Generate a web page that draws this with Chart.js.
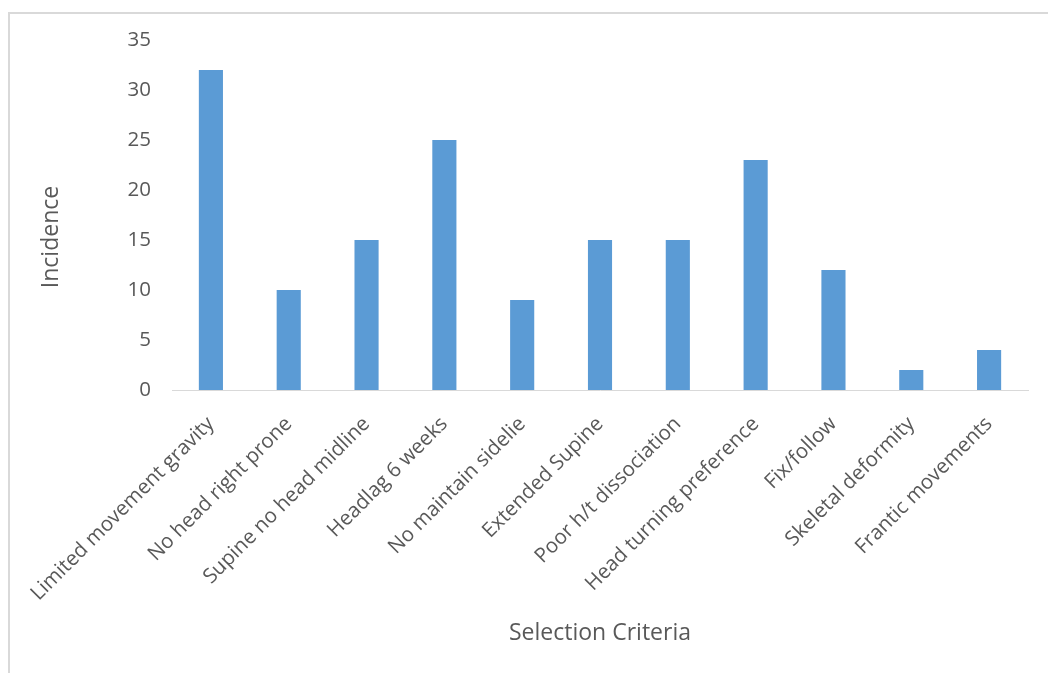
<!DOCTYPE html>
<html>
<head>
<meta charset="utf-8">
<script src="https://cdn.jsdelivr.net/npm/chart.js@4/dist/chart.umd.min.js"></script>
<style>
  body { margin: 0; background: #fff; }
  #frame { position: absolute; left: 8px; top: 12px; width: 1100px; height: 700px;
           border-left: 2px solid #d9d9d9; border-top: 2px solid #d9d9d9; }
  #wrap { position: absolute; left: 0; top: 0; width: 1048px; height: 673px; }
</style>
</head>
<body>
<div id="frame"></div>
<div id="wrap"><canvas id="chart"></canvas></div>
<script>
const categories = ['Limited movement gravity', 'No head right prone', 'Supine no head midline',
  'Headlag 6 weeks', 'No maintain sidelie', 'Extended Supine', 'Poor h/t dissociation',
  'Head turning preference', 'Fix/follow', 'Skeletal deformity', 'Frantic movements'];
const incidence = [32, 10, 15, 25, 9, 15, 15, 23, 12, 2, 4];
const yTicks = { min: 0, max: 35, step: 5 };

const textColor = '#595959';
const font = 'Open Sans';

// y axis title sits a bit below the plot's middle in the original, so draw it by hand
const yTitle = {
  id: 'yTitle',
  afterDraw(chart) {
    const ctx = chart.ctx;
    ctx.save();
    ctx.translate(51, 237);
    ctx.rotate(-Math.PI / 2);
    ctx.font = '23px "Open Sans"';
    ctx.fillStyle = textColor;
    ctx.textAlign = 'center';
    ctx.textBaseline = 'middle';
    ctx.fillText('Incidence', 0, 0);
    ctx.restore();
  }
};

new Chart(document.getElementById('chart'), {
  type: 'bar',
  data: {
    labels: categories,
    datasets: [{
      label: 'Incidence',
      data: incidence,
      backgroundColor: '#5b9bd5',
      borderWidth: 0,
      barPercentage: 0.31,
      categoryPercentage: 1
    }]
  },
  options: {
    responsive: true,
    maintainAspectRatio: false,
    animation: false,
    layout: { padding: { top: 40, right: 20, bottom: 0, left: 0 } },
    scales: {
      x: {
        afterFit: (s) => { s.height = 283; },
        grid: { display: false },
        border: { display: true, color: '#d9d9d9', width: 1 },
        ticks: { color: textColor, font: { family: font, size: 20.5 }, maxRotation: 45, minRotation: 45, padding: 14 },
        title: { display: true, text: 'Selection Criteria', color: textColor, font: { family: font, size: 23 }, padding: { top: 0, bottom: 26 } }
      },
      y: {
        afterFit: (s) => { s.width = 172; },
        min: yTicks.min,
        max: yTicks.max,
        grid: { display: false },
        border: { display: false },
        ticks: { stepSize: yTicks.step, color: textColor, font: { family: font, size: 20.5 }, padding: 13 }
      }
    },
    plugins: {
      legend: { display: false },
      tooltip: { enabled: false }
    }
  },
  plugins: [yTitle]
});
</script>
</body>
</html>
